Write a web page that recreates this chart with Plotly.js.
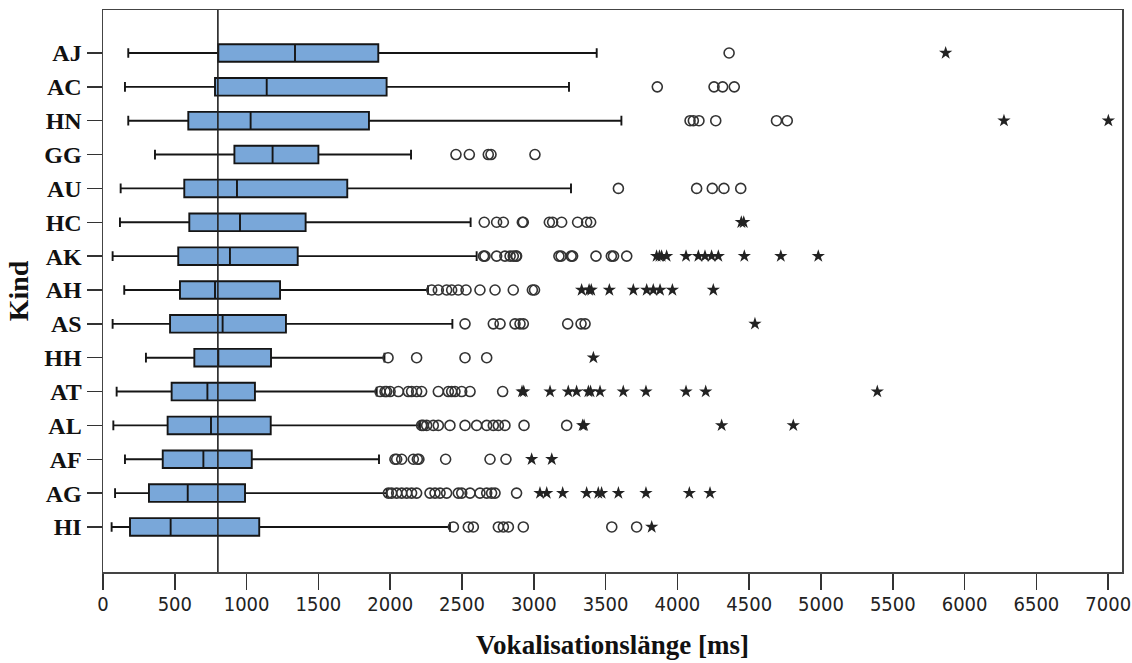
<!DOCTYPE html>
<html>
<head>
<meta charset="utf-8">
<script src="https://cdn.plot.ly/plotly-3.0.1.min.js"></script>
<style>
  html, body { margin: 0; padding: 0; background: #fff; }
  #chart { width: 1132px; height: 663px; }
</style>
</head>
<body>
<div id="chart"></div>
<script>
// Speakers (Kind), listed top to bottom
const categories = ['AJ','AC','HN','GG','AU','HC','AK','AH','AS','HH','AT','AL','AF','AG','HI'];

// Box statistics per speaker (ms)
const lowerWhisker = [176, 153, 176, 362, 123, 118,  67, 148,  67, 299,  95,  72, 153,  84,  60];
const q1           = [803, 780, 594, 915, 566, 601, 524, 536, 467, 636, 478, 450, 416, 320, 188];
const median       = [1337,1140,1028,1181, 933, 954, 884, 780, 833, 803, 727, 752, 699, 590, 471];
const q3           = [1917,1975,1852,1500,1701,1411,1356,1233,1274,1170,1058,1168,1036, 989,1088];
const upperWhisker = [3438,3245,3610,2145,3259,2560,2602,2263,2433,1960,1906,2207,1922,1975,2416];

// Outliers (circles) per speaker, same order as categories
const circleOutliers = [
  [4360],
  [3860, 4255, 4315, 4396],
  [4088, 4111, 4150, 4267, 4690, 4765],
  [2458, 2551, 2683, 2702, 3008],
  [3589, 4134, 4243, 4324, 4441],
  [2655, 2741, 2788, 2920, 2927, 3108, 3131, 3194, 3305, 3368, 3396],
  [2650, 2660, 2741, 2799, 2835, 2857, 2876, 2880, 3175, 3190, 3260, 3270, 3433, 3540, 3555, 3647],
  [2289, 2335, 2393, 2428, 2474, 2528, 2625, 2730, 2857, 2990, 3005],
  [2521, 2718, 2765, 2869, 2904, 2927, 3236, 3329, 3357],
  [1985, 2184, 2521, 2672],
  [1929, 1964, 1975, 1999, 2057, 2126, 2149, 2184, 2219, 2335, 2405, 2428, 2451, 2498, 2556, 2783],
  [2219, 2230, 2254, 2300, 2335, 2416, 2521, 2602, 2672, 2718, 2753, 2799, 2932, 3229],
  [2033, 2045, 2080, 2161, 2189, 2200, 2386, 2695, 2806],
  [1987, 2010, 2045, 2080, 2115, 2149, 2184, 2277, 2312, 2347, 2393, 2474, 2498, 2556, 2625, 2672, 2706, 2730, 2880],
  [2440, 2544, 2579, 2753, 2788, 2823, 2927, 3543, 3716]
];

// Extreme values (stars) per speaker
const starOutliers = [
  [5868],
  [],
  [6274, 7001],
  [],
  [],
  [4445, 4462],
  [3855, 3875, 3890, 3925, 4060, 4146, 4192, 4238, 4285, 4466, 4720, 4981],
  [3333, 3385, 3400, 3526, 3693, 3786, 3832, 3879, 3965, 4250],
  [4540],
  [3415],
  [2918, 2930, 3113, 3240, 3298, 3380, 3395, 3461, 3623, 3781, 4060, 4197, 5392],
  [3340, 3350, 4308, 4807],
  [2985, 3125],
  [3043, 3090, 3201, 3368, 3449, 3472, 3589, 3781, 4083, 4227],
  [3821]
];

const referenceLine = 800;
const xTicks = [0,500,1000,1500,2000,2500,3000,3500,4000,4500,5000,5500,6000,6500,7000];

function flatten(lists) {
  const xs = [], ys = [];
  lists.forEach((vals, i) => vals.forEach(v => { xs.push(v); ys.push(categories[i]); }));
  return {xs, ys};
}
const circ = flatten(circleOutliers);
const star = flatten(starOutliers);

const boxTrace = {
  type: 'box',
  orientation: 'h',
  y: categories,
  q1: q1,
  median: median,
  q3: q3,
  lowerfence: lowerWhisker,
  upperfence: upperWhisker,
  boxpoints: false,
  width: 0.52,
  whiskerwidth: 0.55,
  fillcolor: '#79a7d9',
  line: {color: '#151515', width: 1.9},
  hoverinfo: 'skip',
  showlegend: false
};

const circleTrace = {
  type: 'scatter',
  mode: 'markers',
  x: circ.xs,
  y: circ.ys,
  marker: {symbol: 'circle-open', size: 10, color: '#333', line: {width: 1.6, color: '#333'}},
  hoverinfo: 'skip',
  showlegend: false
};

const starTrace = {
  type: 'scatter',
  mode: 'markers',
  x: star.xs,
  y: star.ys,
  marker: {symbol: 'star', size: 10, color: '#222', line: {width: 0}},
  hoverinfo: 'skip',
  showlegend: false
};

const layout = {
  width: 1132,
  height: 663,
  margin: {l: 103, r: 10, t: 10, b: 91},
  paper_bgcolor: '#fff',
  plot_bgcolor: '#fff',
  showlegend: false,
  xaxis: {
    range: [0, 7096],
    tickvals: xTicks,
    ticktext: xTicks.map(String),
    ticks: 'outside',
    ticklen: 16,
    tickwidth: 1.5,
    tickcolor: '#333',
    ticklabelstandoff: -3,
    showgrid: false,
    zeroline: false,
    showline: true,
    mirror: true,
    linecolor: '#444',
    linewidth: 1.5,
    tickfont: {family: '"DejaVu Sans Condensed", "Liberation Sans Narrow", "DejaVu Sans", sans-serif', size: 20, color: '#222'},
    title: {
      text: 'Vokalisationslänge [ms]',
      font: {family: '"Liberation Serif", "DejaVu Serif", serif', size: 27, weight: 700, color: '#111'},
      standoff: 20
    }
  },
  yaxis: {
    type: 'category',
    categoryorder: 'array',
    categoryarray: categories,
    range: [15.33, -1.27],
    ticks: 'outside',
    ticklen: 15,
    tickwidth: 1.5,
    tickcolor: '#333',
    showgrid: false,
    zeroline: false,
    showline: true,
    mirror: true,
    linecolor: '#444',
    linewidth: 1.5,
    tickfont: {family: '"Liberation Serif", "DejaVu Serif", serif', size: 24, weight: 700, color: '#111'},
    title: {
      text: 'Kind',
      font: {family: '"Liberation Serif", "DejaVu Serif", serif', size: 28, weight: 700, color: '#111'},
      standoff: 7
    }
  },
  shapes: [{
    type: 'line',
    xref: 'x', yref: 'paper',
    x0: referenceLine, x1: referenceLine, y0: 0, y1: 1,
    line: {color: '#222', width: 1.6},
    layer: 'above'
  }]
};

Plotly.newPlot('chart', [boxTrace, circleTrace, starTrace], layout, {staticPlot: true, displayModeBar: false});
</script>
</body>
</html>
